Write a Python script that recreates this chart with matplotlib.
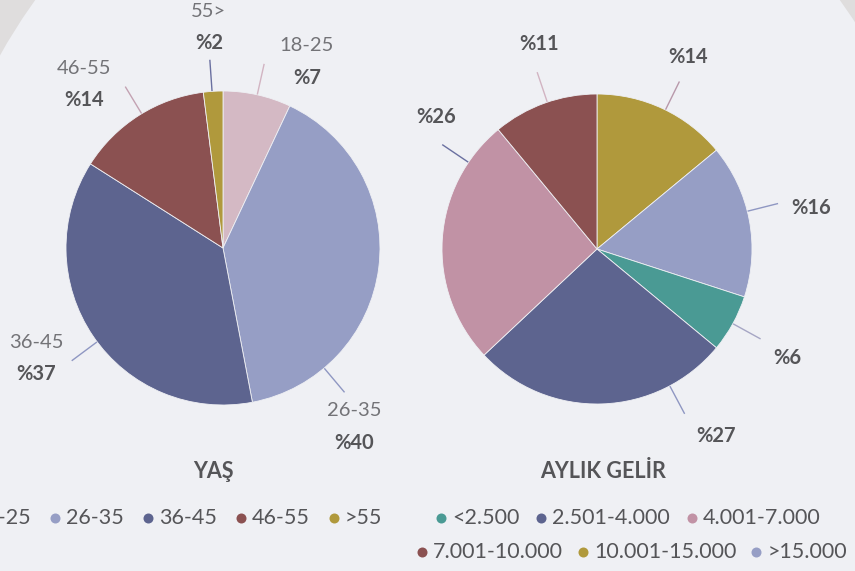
import matplotlib
matplotlib.use('Agg')
import matplotlib.pyplot as plt
from matplotlib.patches import Ellipse
import numpy as np

# ---------------- data ----------------
age_legend = ['18-25', '26-35', '36-45', '46-55', '>55']
age_slice_names = ['18-25', '26-35', '36-45', '46-55', '55>']
age_values = [7, 40, 37, 14, 2]

income_legend = ['<2.500', '2.501-4.000', '4.001-7.000', '7.001-10.000', '10.001-15.000', '>15.000']
income_values = [6, 27, 26, 11, 14, 16]
income_draw_order = [4, 5, 0, 1, 2, 3]   # clockwise from the top

titles = ['YAŞ', 'AYLIK GELİR']

# ---------------- style ----------------
W, H = 855, 571
BG_OUT = '#dfdddd'
BG_IN = '#eff0f4'
TXT = '#555558'
TXT_L = '#737377'

age_colors = ['#d4b9c4', '#969ec5', '#5d648f', '#8b5151', '#b0993c']
income_colors = ['#4a9a94', '#5d648f', '#c192a5', '#8b5151', '#b0993c', '#969ec5']

age_conn_colors = ['#d2b4c2', '#8f97c2', '#8f97c2', '#c3a2b2', '#6a70a0']
income_conn_colors = ['#b898aa', '#8f97c2', '#a6a6c4', '#8f97c2', '#6a70a0', '#d2b4c2']

# connector angles (deg, clockwise from top) and label-block offsets (px) per drawn slice
age_label_angles = [12.6, 139.9, 233.3, 328.8, 356.0]
age_label_offsets = [(43, -3), (10, 35), (-36, -2), (-42, -3), (-1, -33)]
income_label_angles = [26.2, 75.9, 118.8, 152.0, 304.0, 341.3]
income_label_offsets = [(9, -25), (34, 4), (27, 19), (32, 23), (-7, -28), (2, -29)]

FONT = 'Lato'
plt.rcParams['font.family'] = [FONT, 'DejaVu Sans']

fig = plt.figure(figsize=(W / 100, H / 100), dpi=100, facecolor=BG_OUT)
ax = fig.add_axes([0, 0, 1, 1])
ax.set_facecolor('none')


def Y(ypx):
    return H - ypx


ax.add_patch(Ellipse((437.5, Y(400)), 2 * 526, 2 * 621, facecolor=BG_IN,
                     edgecolor='none', zorder=0))


def draw_pie(center_px, r, vals, cols, angles, offsets, conn_cols, names=None):
    cx, cy = center_px[0], Y(center_px[1])
    ax.pie(vals, colors=cols, startangle=90, counterclock=False,
           center=(cx, cy), radius=r,
           wedgeprops=dict(linewidth=0.6, edgecolor=BG_IN), frame=True)
    for i, v in enumerate(vals):
        a = np.deg2rad(angles[i])
        d = np.array([np.sin(a), np.cos(a)])
        p0 = np.array([cx, cy]) + d * (r + 1)
        p1 = np.array([cx, cy]) + d * (r + 31)
        ax.plot([p0[0], p1[0]], [p0[1], p1[1]], color=conn_cols[i], lw=1.0, zorder=3)
        lx = p1[0] + offsets[i][0]
        ly = p1[1] - offsets[i][1]
        if names is not None:
            ax.text(lx, ly + 16, names[i], ha='center', va='center', fontsize=14.5,
                    color=TXT_L, fontweight='normal')
            ax.text(lx, ly - 16, f'%{v}', ha='center', va='center', fontsize=14.5,
                    color=TXT, fontweight='bold')
        else:
            ax.text(lx, ly, f'%{v}', ha='center', va='center', fontsize=14.5,
                    color=TXT, fontweight='bold')


draw_pie((223, 248), 157, age_values, age_colors, age_label_angles,
         age_label_offsets, age_conn_colors, names=age_slice_names)

inc_vals = [income_values[i] for i in income_draw_order]
inc_cols = [income_colors[i] for i in income_draw_order]
draw_pie((597, 249), 155, inc_vals, inc_cols, income_label_angles,
         income_label_offsets, income_conn_colors)

# titles
ax.text(213, Y(471), titles[0], ha='center', va='center', fontsize=15.5,
        fontweight='bold', color=TXT)
ax.text(603, Y(471), titles[1], ha='center', va='center', fontsize=15.5,
        fontweight='bold', color=TXT)

# manual legends
renderer = fig.canvas.get_renderer()


def text_width(s, size):
    t = ax.text(0, 0, s, fontsize=size)
    w = t.get_window_extent(renderer).width
    t.remove()
    return w


LEG_FS = 15.5


def legend_row(anchor_idx, anchor_x, ypx, labels, cols, gap):
    widths = [text_width(s, LEG_FS) for s in labels]
    x = anchor_x
    for k in range(anchor_idx):
        x -= 11 + widths[k] + gap
    for lab, c, w in zip(labels, cols, widths):
        ax.plot([x], [Y(ypx)], marker='o', ms=7.2, color=c, mec='none', zorder=4)
        ax.text(x + 11, Y(ypx), lab, ha='left', va='center', fontsize=LEG_FS, color=TXT)
        x = x + 11 + w + gap


legend_row(1, 55, 518, age_legend, age_colors, 24)
legend_row(0, 441, 518, income_legend[:3], income_colors[:3], 22)
legend_row(0, 422, 552, income_legend[3:], income_colors[3:], 20)

ax.set_xlim(0, W)
ax.set_ylim(0, H)
ax.set_aspect('equal')
ax.axis('off')

fig.savefig('out.png', dpi=100, facecolor=BG_OUT)
